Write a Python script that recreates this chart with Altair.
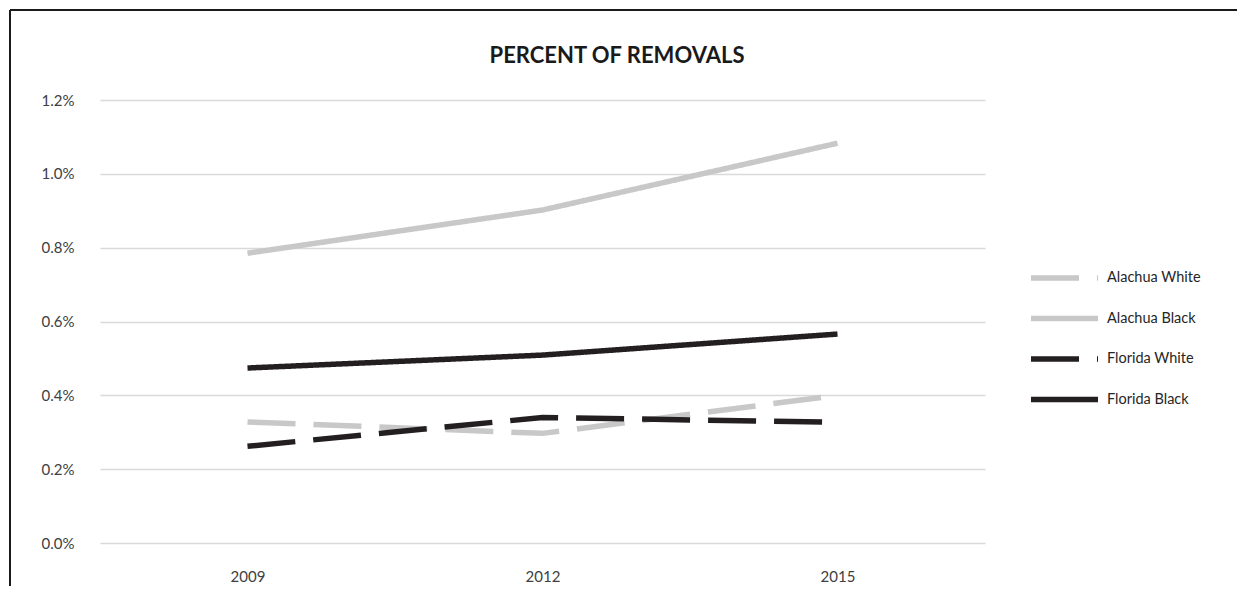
import altair as alt
import pandas as pd

years = ["2009", "2012", "2015"]
series = ["Alachua White", "Alachua Black", "Florida White", "Florida Black"]
alachua_white = [0.328, 0.297, 0.400]
alachua_black = [0.785, 0.902, 1.083]
florida_white = [0.262, 0.340, 0.327]
florida_black = [0.474, 0.509, 0.566]

colors = ["#c8c8c8", "#c8c8c8", "#231f20", "#231f20"]
dashes = [[48, 18], [1, 0], [48, 18], [1, 0]]

rows = []
for name, vals in zip(series, [alachua_white, alachua_black, florida_white, florida_black]):
    for y, v in zip(years, vals):
        rows.append({"year": y, "series": name, "value": v / 100.0})
df = pd.DataFrame(rows)

FONT = "Lato"

legend_kw = dict(title=None, orient="none", legendX=928, legendY=168, padding=0,
                 symbolType="stroke", symbolSize=4489, symbolStrokeWidth=5.5,
                 labelFontSize=14.5, labelFont=FONT, labelColor="#262626",
                 clipHeight=20, rowPadding=20.5, labelOffset=6)

lines = alt.Chart(df).mark_line(strokeWidth=5.5, strokeCap="butt", strokeJoin="miter").encode(
    x=alt.X("year:O", sort=years,
            scale=alt.Scale(type="point", padding=0.5),
            axis=alt.Axis(title=None, labelAngle=0, ticks=False, domain=False, grid=False,
                          labelPadding=26, labelFontSize=15, labelColor="#404040",
                          labelFont=FONT)),
    y=alt.Y("value:Q", scale=alt.Scale(domain=[0, 0.012], nice=False),
            axis=alt.Axis(title=None, format=".1%", values=[0, 0.002, 0.004, 0.006, 0.008, 0.010, 0.012],
                          ticks=False, domain=False, labelPadding=26, labelFontSize=15,
                          labelColor="#404040", labelFont=FONT,
                          gridColor="#d9d9d9", gridWidth=1.5)),
    color=alt.Color("series:N", sort=series,
                    scale=alt.Scale(domain=series, range=colors),
                    legend=alt.Legend(**legend_kw)),
    strokeDash=alt.StrokeDash("series:N", sort=series,
                              scale=alt.Scale(domain=series, range=dashes),
                              legend=alt.Legend(**legend_kw)),
    detail="series:N",
)

title_df = pd.DataFrame({"t": ["PERCENT OF REMOVALS"]})
title = alt.Chart(title_df).mark_text(fontSize=22, fontWeight="bold", font=FONT, color="#1a1a1a",
                                      align="center", baseline="alphabetic").encode(
    text="t:N", x=alt.value(517), y=alt.value(-37))

frame_df = pd.DataFrame({"f": [0]})
frame_top = alt.Chart(frame_df).mark_rule(stroke="#1a1a1a", strokeWidth=2).encode(
    x=alt.value(-90), x2=alt.value(1300), y=alt.value(-90))
frame_left = alt.Chart(frame_df).mark_rule(stroke="#1a1a1a", strokeWidth=2).encode(
    x=alt.value(-90), y=alt.value(-90), y2=alt.value(700))

chart = alt.layer(frame_top, frame_left, lines, title).properties(
    width=885, height=443,
    padding={"left": 92, "top": 92, "right": 252, "bottom": 43},
    autosize=alt.AutoSizeParams(type="none"),
).configure(background="white").configure_view(stroke=None)

chart.save("out.html", embed_options={"renderer": "svg", "actions": False})
